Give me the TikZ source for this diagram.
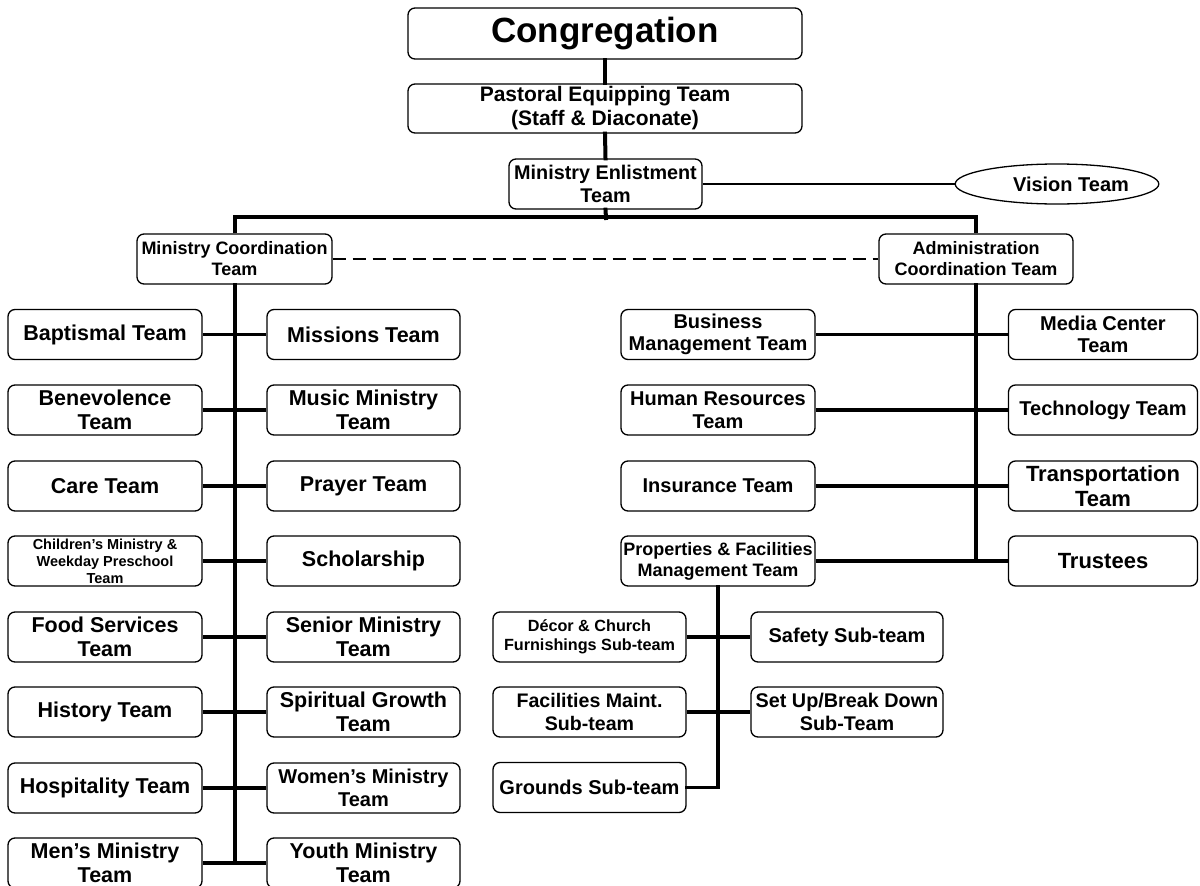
\documentclass[tikz,border=0pt]{standalone}
\usepackage{fontspec}
\setmainfont{Liberation Sans}
\usetikzlibrary{shapes.geometric}
\newcommand\fsz[2]{\fontsize{#1}{#2}\selectfont}
\tikzset{
  box/.style={draw, line width=1.3pt, rounded corners=7pt, align=center, inner sep=0pt, fill=white,
    font=\bfseries\fsz{21.5}{24.5}},
  lbox/.style={box, minimum width=194, minimum height=50},
  rbox/.style={box, minimum width=193, minimum height=50},
  trunk/.style={line width=4pt, line cap=rect},
  branch/.style={line width=3.3pt},
  thinlink/.style={line width=2.7pt},
  dashlink/.style={line width=2pt, dash pattern=on 13pt off 7pt},
  f20/.style={font=\bfseries\fsz{20}{22.5}},
}
\begin{document}
\begin{tikzpicture}[x=1pt,y=-1pt]
\useasboundingbox (0,0) rectangle (1200,886);

% top
\node[box, minimum width=394, minimum height=51, font=\bfseries\fsz{35}{40}] (cong) at (605,33.5) {Congregation};
\node[box, minimum width=394, minimum height=49, font=\bfseries\fsz{21}{24}] (past) at (605,108.5) {Pastoral Equipping Team\\(Staff \& Diaconate)};
\node[box, minimum width=193, minimum height=50, font=\bfseries\fsz{19.8}{23}] (enl) at (605.5,184) {Ministry Enlistment\\Team};
\node[draw, ellipse, line width=1.3pt, minimum width=190, minimum height=40, inner sep=0pt, font=\bfseries\fsz{20}{22}] (vis) at (1057,184) {\hspace*{28pt}Vision Team};
\coordinate (busc) at (606,218);

\node[box, minimum width=195, minimum height=50, font=\bfseries\fsz{18}{21}] (mc) at (234.5,259) {Ministry Coordination\\Team};
\node[box, minimum width=194, minimum height=50, font=\bfseries\fsz{18}{21}] (ac) at (976,259) {Administration\\Coordination Team};

% ministry left column
\node[lbox] (bap) at (105,334.5) {Baptismal Team};
\node[lbox] (ben) at (105,410) {Benevolence\\Team};
\node[lbox] (care) at (105,486) {Care Team};
\node[lbox, font=\bfseries\fsz{14.5}{17}] (chi) at (105,561) {Children’s Ministry \&\\Weekday Preschool\\Team};
\node[lbox] (food) at (105,637) {Food Services\\Team};
\node[lbox] (hist) at (105,712) {History Team};
\node[lbox] (hosp) at (105,788) {Hospitality Team};
\node[lbox] (men) at (105,863) {Men’s Ministry\\Team};

% ministry right column
\node[rbox] (mis) at (363.5,334.5) {Missions Team};
\node[rbox] (mus) at (363.5,410) {Music Ministry\\Team};
\node[rbox] (pray) at (363.5,486) {Prayer Team};
\node[rbox] (sch) at (363.5,561) {Scholarship};
\node[rbox] (sen) at (363.5,637) {Senior Ministry\\Team};
\node[rbox] (spi) at (363.5,712) {Spiritual Growth\\Team};
\node[rbox, f20] (wom) at (363.5,788) {Women’s Ministry\\Team};
\node[rbox] (you) at (363.5,863) {Youth Ministry\\Team};

% administration left column
\node[lbox, f20] (bus) at (718,334.5) {Business\\Management Team};
\node[lbox, f20] (hr) at (718,410) {Human Resources\\Team};
\node[lbox, f20] (ins) at (718,486) {Insurance Team};
\node[lbox, font=\bfseries\fsz{18}{21}] (pf) at (718,561) {Properties \& Facilities\\Management Team};

% administration right column
\node[box, minimum width=189, minimum height=50, f20] (med) at (1103,334.5) {Media Center\\Team};
\node[box, minimum width=189, minimum height=50, f20] (tech) at (1103,410) {Technology Team};
\node[box, minimum width=189, minimum height=50, font=\bfseries\fsz{22}{24.5}] (tra) at (1103,486) {Transportation\\Team};
\node[box, minimum width=189, minimum height=50, font=\bfseries\fsz{22}{24.5}] (tru) at (1103,561) {Trustees};

% properties sub-teams
\node[rbox, font=\bfseries\fsz{16.2}{19}] (dec) at (589.5,637) {Décor \& Church\\Furnishings Sub-team};
\node[rbox, font=\bfseries\fsz{19.6}{22.5}] (fac) at (589.5,712) {Facilities Maint.\\Sub-team};
\node[rbox, f20] (gro) at (589.5,787.5) {Grounds Sub-team};
\node[box, minimum width=192, minimum height=50, f20] (saf) at (847,637) {Safety Sub-team};
\node[box, minimum width=192, minimum height=50, font=\bfseries\fsz{19.8}{22.5}] (set) at (847,712) {Set Up/Break Down\\Sub-Team};

% connectors
\draw[trunk] (cong.south) -- (past.north);
\draw[trunk] (past.south) -- (enl.north);
\draw[trunk] (enl.south) -- (busc);
\draw[thinlink] (enl.east) -- (vis.west);
\draw[trunk, line cap=butt] (mc.north) -- ++(0,-16) -| (ac.north);
\draw[dashlink] (mc.east) -- (ac.west);

\draw[trunk] (mc.south) -- (mc.south |- men.east);
\draw[branch] (bap.east) -- (mis.west);
\draw[branch] (ben.east) -- (mus.west);
\draw[branch] (care.east) -- (pray.west);
\draw[branch] (chi.east) -- (sch.west);
\draw[branch] (food.east) -- (sen.west);
\draw[branch] (hist.east) -- (spi.west);
\draw[branch] (hosp.east) -- (wom.west);
\draw[branch] (men.east) -- (you.west);

\draw[trunk] (ac.south) -- (ac.south |- tru.west);
\draw[branch] (bus.east) -- (med.west);
\draw[branch] (hr.east) -- (tech.west);
\draw[branch] (ins.east) -- (tra.west);
\draw[branch] (pf.east) -- (tru.west);

\draw[branch, line cap=rect] (pf.south) |- (gro.east);
\draw[branch] (dec.east) -- (saf.west);
\draw[branch] (fac.east) -- (set.west);
\end{tikzpicture}
\end{document}
